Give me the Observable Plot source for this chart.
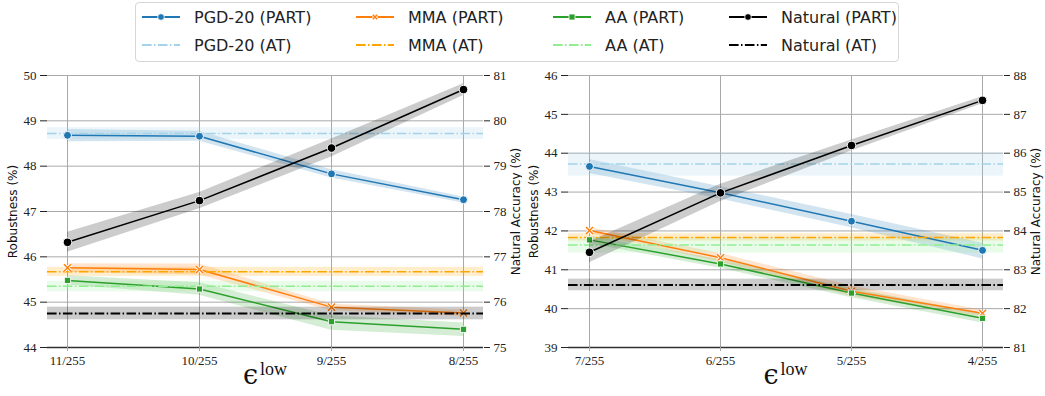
<!DOCTYPE html>
<html><head><meta charset="utf-8">
<script src="https://cdn.jsdelivr.net/npm/d3@7"></script>
<script src="https://cdn.jsdelivr.net/npm/@observablehq/plot@0.6"></script>
<style>
body{margin:0;background:#fff;}
#wrap{position:relative;width:1045px;height:396px;overflow:hidden;background:#fff;}
#legend{position:absolute;left:135px;top:2px;width:764px;height:60px;border:1px solid #d6d6d6;border-radius:4px;box-sizing:border-box;font-family:"DejaVu Sans",sans-serif;font-size:16px;color:#222;background:#fff;z-index:2;}
.item{position:absolute;height:22px;display:flex;align-items:center;white-space:nowrap;}
.item svg{margin-right:14px;}
#left{position:absolute;left:0;top:62px;}
#right{position:absolute;left:522px;top:62px;}
</style></head>
<body>
<div id="wrap">
  <div id="legend"></div>
  <div id="left"></div>
  <div id="right"></div>
</div>
<script>
// ---------- data ----------
const methods = ["PGD-20", "MMA", "AA", "Natural"];

const epsLeft  = ["11/255", "10/255", "9/255", "8/255"];
const epsRight = ["7/255", "6/255", "5/255", "4/255"];

const robTicksLeft  = [44, 45, 46, 47, 48, 49, 50];
const natTicksLeft  = [75, 76, 77, 78, 79, 80, 81];
const robTicksRight = [39, 40, 41, 42, 43, 44, 45, 46];
const natTicksRight = [81, 82, 83, 84, 85, 86, 87, 88];

// left panel (PART: mean, lower, upper)
const pgdPartL   = [48.68, 48.66, 47.83, 47.26];
const pgdPartLLo = [48.54, 48.55, 47.74, 47.19];
const pgdPartLHi = [48.81, 48.77, 47.92, 47.32];
const mmaPartL   = [45.76, 45.72, 44.89, 44.76];
const mmaPartLLo = [45.66, 45.60, 44.81, 44.69];
const mmaPartLHi = [45.85, 45.84, 44.96, 44.82];
const aaPartL    = [45.48, 45.29, 44.57, 44.40];
const aaPartLLo  = [45.38, 45.15, 44.38, 44.24];
const aaPartLHi  = [45.58, 45.43, 44.70, 44.54];
const natPartL   = [77.32, 78.24, 79.40, 80.69];
const natPartLLo = [77.10, 78.06, 79.20, 80.56];
const natPartLHi = [77.54, 78.42, 79.60, 80.82];
// left panel AT baselines: [mean, lower, upper]
const pgdAtL = [48.72, 48.59, 48.85];
const mmaAtL = [45.67, 45.57, 45.77];
const aaAtL  = [45.35, 45.23, 45.46];
const natAtL = [75.75, 75.61, 75.89];

// right panel
const pgdPartR   = [43.66, 42.98, 42.25, 41.50];
const pgdPartRLo = [43.48, 42.82, 42.08, 41.28];
const pgdPartRHi = [43.84, 43.14, 42.42, 41.68];
const mmaPartR   = [42.01, 41.31, 40.45, 39.88];
const mmaPartRLo = [41.93, 41.20, 40.32, 39.80];
const mmaPartRHi = [42.09, 41.42, 40.58, 39.96];
const aaPartR    = [41.77, 41.15, 40.40, 39.75];
const aaPartRLo  = [41.67, 41.04, 40.28, 39.63];
const aaPartRHi  = [41.87, 41.26, 40.52, 39.87];
const natPartR   = [83.45, 84.98, 86.20, 87.36];
const natPartRLo = [83.18, 84.76, 86.06, 87.27];
const natPartRHi = [83.72, 85.20, 86.34, 87.45];
const pgdAtR = [43.72, 43.41, 44.01];
const mmaAtR = [41.83, 41.74, 41.93];
const aaAtR  = [41.64, 41.43, 41.82];
const natAtR = [82.61, 82.46, 82.76];

// ---------- styles ----------
const partColor = {"PGD-20": "#1f77b4", "MMA": "#ff7f0e", "AA": "#2ca02c", "Natural": "#000000"};
const atColor   = {"PGD-20": "#a2d3e8", "MMA": "#ffa500", "AA": "#90ee90", "Natural": "#000000"};
const dashDot = "9.6,2.4,1.5,2.4";
const gridColor = "#a9a9a9";
const serif = "'Liberation Serif', 'Times New Roman', serif";
const sans = "'DejaVu Sans', sans-serif";

// ---------- legend ----------
function handleSvg(m, kind) {
  const c = kind === "PART" ? partColor[m] : atColor[m];
  let s = `<svg width="38" height="12" viewBox="0 0 38 12">`;
  if (kind === "PART") {
    s += `<line x1="0" x2="38" y1="6" y2="6" stroke="${c}" stroke-width="2"/>`;
    if (m === "PGD-20" || m === "Natural") s += `<circle cx="19" cy="6" r="3.3" fill="${c}" stroke="#fff" stroke-width="0.8"/>`;
    if (m === "MMA") s += `<path d="M16.5,3.5L21.5,8.5M21.5,3.5L16.5,8.5" stroke="#fff" stroke-width="3"/><path d="M16.8,3.8L21.2,8.2M21.2,3.8L16.8,8.2" stroke="${c}" stroke-width="1.5"/>`;
    if (m === "AA") s += `<rect x="16" y="3" width="6" height="6" fill="${c}" stroke="#fff" stroke-width="0.8"/>`;
  } else {
    s += `<line x1="0" x2="38" y1="6" y2="6" stroke="${c}" stroke-width="2" stroke-dasharray="${dashDot}"/>`;
  }
  return s + `</svg>`;
}
const legend = document.getElementById("legend");
const colX = [6, 220, 417, 593];
const rowY = [3, 31];
["PART", "AT"].forEach((kind, r) => {
  methods.forEach((m, i) => {
    const d = document.createElement("div");
    d.className = "item";
    d.style.left = colX[i] + "px";
    d.style.top = rowY[r] + "px";
    d.innerHTML = handleSvg(m, kind) + `<span>${m} (${kind})</span>`;
    legend.appendChild(d);
  });
});

// ---------- panels ----------
function panel(cfg) {
  const {eps, robTicks, natTicks, part, at, width, ml, mr} = cfg;
  const off = natTicks[0] - robTicks[0];
  const robDomain = [robTicks[0], robTicks[robTicks.length - 1]];
  const shift = m => (m === "Natural" ? off : 0);

  const partRows = m => part[m][0].map((v, j) => ({eps: eps[j], v: v - shift(m), lo: part[m][1][j] - shift(m), hi: part[m][2][j] - shift(m)}));
  const atRow = m => [{v: at[m][0] - shift(m), lo: at[m][1] - shift(m), hi: at[m][2] - shift(m)}];

  const marks = [
    Plot.gridX(eps, {stroke: gridColor, strokeOpacity: 1, strokeWidth: 1}),
    Plot.gridY(robTicks, {stroke: gridColor, strokeOpacity: 1, strokeWidth: 1}),
    Plot.ruleY([robDomain[0]], {stroke: "#303030", strokeWidth: 1.3})
  ];
  const rob = ["PGD-20", "MMA", "AA"];
  function group(ms) {
    const out = [];
    for (const m of ms) {
      out.push(Plot.areaY(partRows(m), {x: "eps", y1: "lo", y2: "hi", fill: partColor[m], fillOpacity: 0.2}));
      out.push(Plot.rect(atRow(m), {y1: "lo", y2: "hi", fill: atColor[m], fillOpacity: 0.2}));
    }
    for (const m of ms) {
      out.push(Plot.line(partRows(m), {x: "eps", y: "v", stroke: partColor[m], strokeWidth: 1.5}));
      out.push(Plot.ruleY(atRow(m), {y: "v", stroke: atColor[m], strokeWidth: m === "Natural" ? 2 : 1.5, strokeDasharray: dashDot}));
    }
    for (const m of ms) {
      const rows = partRows(m);
      if (m === "MMA") {
        out.push(Plot.dot(rows, {x: "eps", y: "v", symbol: "times", r: 3.3, stroke: "#fff", strokeWidth: 3.2, fill: "none"}));
        out.push(Plot.dot(rows, {x: "eps", y: "v", symbol: "times", r: 3.3, stroke: partColor[m], strokeWidth: 1.5, fill: "none"}));
      } else if (m === "AA") {
        out.push(Plot.dot(rows, {x: "eps", y: "v", symbol: "square", r: 3.5, fill: partColor[m], stroke: "#fff", strokeWidth: 0.9}));
      } else {
        out.push(Plot.dot(rows, {x: "eps", y: "v", symbol: "circle", r: m === "Natural" ? 4.3 : 4, fill: partColor[m], stroke: "#fff", strokeWidth: 1}));
      }
    }
    return out;
  }
  marks.push(...group(rob));
  marks.push(...group(["Natural"]));

  marks.push(
    Plot.axisY(robTicks, {anchor: "left", tickSize: 7, tickPadding: 4, color: "#222", label: null, fontSize: 13, fontFamily: serif}),
    Plot.axisY(natTicks.map(t => t - off), {anchor: "right", tickSize: 6, tickPadding: 4, color: "#222", label: null, fontSize: 13, fontFamily: serif, tickFormat: d => String(Math.round(d + off))}),
    Plot.axisX(eps, {tickSize: 4, tickPadding: 4, color: "#222", stroke: gridColor, label: null, fontSize: 13, fontFamily: serif}),
    Plot.text(["Robustness (%)"], {frameAnchor: "left", dx: -34, rotate: -90, textAnchor: "middle", lineAnchor: "middle", fontFamily: sans, fontSize: 12, fill: "#111"}),
    Plot.text(["Natural Accuracy (%)"], {frameAnchor: "right", dx: 33, rotate: -90, textAnchor: "middle", lineAnchor: "middle", fontFamily: sans, fontSize: 12, fill: "#111"}),
    Plot.text(["\u03f5"], {frameAnchor: "bottom", dx: -15, dy: 36, textAnchor: "middle", fontFamily: "'DejaVu Serif', serif", fontSize: 27, fill: "#111"}),
    Plot.text(["low"], {frameAnchor: "bottom", dx: 8, dy: 27, textAnchor: "middle", fontFamily: serif, fontSize: 18, fill: "#111"})
  );

  return Plot.plot({
    width, height: 334,
    marginTop: 13, marginBottom: 49, marginLeft: ml, marginRight: mr,
    style: {fontFamily: serif, fontSize: "13px", background: "#fff", overflow: "visible"},
    x: {type: "point", domain: eps, padding: 0.15},
    y: {domain: robDomain},
    marks
  });
}

document.getElementById("left").appendChild(panel({
  eps: epsLeft, robTicks: robTicksLeft, natTicks: natTicksLeft, width: 522, ml: 47, mr: 39,
  part: {"PGD-20": [pgdPartL, pgdPartLLo, pgdPartLHi], "MMA": [mmaPartL, mmaPartLLo, mmaPartLHi], "AA": [aaPartL, aaPartLLo, aaPartLHi], "Natural": [natPartL, natPartLLo, natPartLHi]},
  at: {"PGD-20": pgdAtL, "MMA": mmaAtL, "AA": aaAtL, "Natural": natAtL}
}));
document.getElementById("right").appendChild(panel({
  eps: epsRight, robTicks: robTicksRight, natTicks: natTicksRight, width: 523, ml: 46, mr: 42,
  part: {"PGD-20": [pgdPartR, pgdPartRLo, pgdPartRHi], "MMA": [mmaPartR, mmaPartRLo, mmaPartRHi], "AA": [aaPartR, aaPartRLo, aaPartRHi], "Natural": [natPartR, natPartRLo, natPartRHi]},
  at: {"PGD-20": pgdAtR, "MMA": mmaAtR, "AA": aaAtR, "Natural": natAtR}
}));
</script>
</body></html>
